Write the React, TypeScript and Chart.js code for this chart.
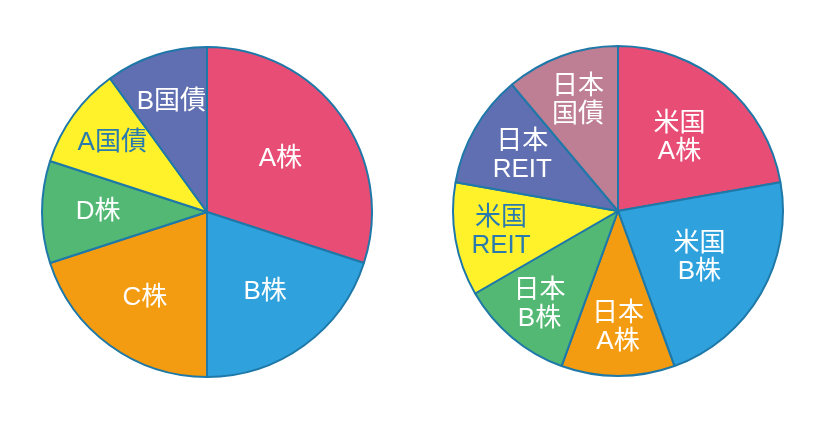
import React, { useEffect, useRef } from "react";
import { Chart, registerables } from "chart.js";

Chart.register(...registerables);

// Left pie
const leftLabels = ["A株", "B株", "C株", "D株", "A国債", "B国債"];
const leftValues = [30, 20, 20, 10, 10, 10];
const leftColors = ["#E84E75", "#2FA2DD", "#F39C12", "#52B873", "#FFF22B", "#5F6FB2"];
const leftTextColors = ["#fff", "#fff", "#fff", "#fff", "#2A7AAE", "#fff"];
const leftLabelRadius = [0.55, 0.6, 0.64, 0.66, 0.71, 0.7];

// Right pie
const rightLabels = [["米国", "A株"], ["米国", "B株"], ["日本", "A株"], ["日本", "B株"], ["米国", "REIT"], ["日本", "REIT"], ["日本", "国債"]];
const rightValues = [2, 2, 1, 1, 1, 1, 1];
const rightColors = ["#E84E75", "#2FA2DD", "#F39C12", "#52B873", "#FFF22B", "#5F6FB2", "#BE7E94"];
const rightTextColors = ["#fff", "#fff", "#fff", "#fff", "#2A7AAE", "#fff", "#fff"];
const rightLabelRadius = [0.58, 0.57, 0.71, 0.74, 0.72, 0.67, 0.71];

const BORDER = "#1E78A8";
const FONT = '"Liberation Sans", "Noto Sans CJK JP", sans-serif';

const labelPlugin = {
  id: "sliceLabels",
  afterDatasetsDraw(chart: any, _args: any, opts: any) {
    const ctx = chart.ctx;
    const meta = chart.getDatasetMeta(0);
    const labels = chart.data.labels;
    ctx.save();
    ctx.font = `26px ${FONT}`;
    ctx.textAlign = "center";
    ctx.textBaseline = "middle";
    meta.data.forEach((arc: any, i: number) => {
      const p = arc.getProps(["x", "y", "startAngle", "endAngle", "outerRadius"], true);
      const mid = (p.startAngle + p.endAngle) / 2;
      const r = p.outerRadius * opts.radius[i];
      const cx = p.x + Math.cos(mid) * r;
      const cy = p.y + Math.sin(mid) * r;
      const lines = Array.isArray(labels[i]) ? labels[i] : [labels[i]];
      const lh = 28;
      ctx.fillStyle = opts.colors[i];
      lines.forEach((t: string, k: number) => {
        ctx.fillText(t, cx, cy + (k - (lines.length - 1) / 2) * lh);
      });
    });
    ctx.restore();
  },
};

function Pie(props: { labels: any[]; values: number[]; colors: string[]; textColors: string[]; radius: number[]; left: number; top: number }) {
  const ref = useRef<HTMLCanvasElement>(null);
  useEffect(() => {
    const chart = new Chart(ref.current!, {
      type: "pie",
      data: {
        labels: props.labels,
        datasets: [
          {
            data: props.values,
            backgroundColor: props.colors,
            borderColor: BORDER,
            borderWidth: 2,
            hoverOffset: 0,
            offset: 0,
          },
        ],
      },
      options: {
        animation: false,
        responsive: false,
        events: [],
        layout: { padding: 4 },
        plugins: {
          legend: { display: false },
          tooltip: { enabled: false },
          sliceLabels: { colors: props.textColors, radius: props.radius },
        } as any,
      },
      plugins: [labelPlugin],
    });
    return () => chart.destroy();
  }, []);
  return (
    <canvas
      ref={ref}
      width={340}
      height={340}
      style={{ position: "absolute", left: props.left, top: props.top, width: 340, height: 340 }}
    />
  );
}

export default function App() {
  return (
    <div style={{ position: "fixed", left: 0, top: 0, width: 821, height: 422, background: "#fff" }}>
      <Pie labels={leftLabels} values={leftValues} colors={leftColors} textColors={leftTextColors} radius={leftLabelRadius} left={37} top={42} />
      <Pie labels={rightLabels} values={rightValues} colors={rightColors} textColors={rightTextColors} radius={rightLabelRadius} left={448} top={41} />
    </div>
  );
}
